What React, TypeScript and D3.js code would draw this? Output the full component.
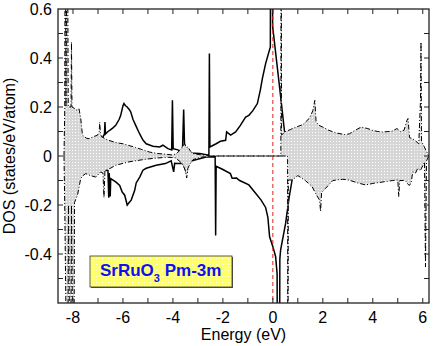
import React from "react";
import * as d3 from "d3";

const width = 436;
const height = 346;
const marginLeft = 58;
const marginRight = 7;
const marginTop = 9;
const marginBottom = 43;

// Ru-d like DOS (solid line), spin up and spin down (magnitudes)
const solidUpE = [-6.85, -6.8, -6.74, -6.72, -6.7, -6.6, -6.53, -6.4, -6.29, -6.15, -6.09, -6.0, -5.96, -5.9, -5.83, -5.75, -5.69, -5.6, -5.49, -5.33, -5.2, -5.07, -4.8, -4.53, -4.4, -4.2, -4.05, -4.02, -3.99, -3.8, -3.62, -3.57, -3.53, -3.3, -2.93, -2.56, -2.54, -2.52, -2.27, -2.1, -1.89, -1.85, -1.75, -1.69, -1.49, -1.3, -1.09, -0.96, -0.8, -0.62, -0.5, -0.42, -0.29, -0.1, -0.09, -0.03, -0.01, 0.27, 0.47, 0.55];
const solidUp = [0, 0.078, 0.09, 0.139, 0.09, 0.1, 0.105, 0.115, 0.125, 0.15, 0.166, 0.205, 0.214, 0.205, 0.2, 0.19, 0.18, 0.15, 0.125, 0.09, 0.065, 0.05, 0.04, 0.037, 0.044, 0.03, 0.025, 0.227, 0.03, 0.025, 0.016, 0.19, 0.02, 0.012, 0.01, 0.003, 0.418, 0.037, 0.05, 0.06, 0.064, 0.098, 0.09, 0.085, 0.098, 0.125, 0.159, 0.166, 0.185, 0.214, 0.27, 0.316, 0.377, 0.445, 1.2, 1.2, 0.53, 0.28, 0.098, 0];
const solidDnE = [-6.72, -6.7, -6.6, -6.57, -6.55, -6.51, -6.49, -6.29, -6.13, -6.03, -5.93, -5.83, -5.75, -5.67, -5.53, -5.47, -5.33, -5.2, -5.07, -4.67, -4.3, -4.07, -3.97, -3.93, -3.8, -3.6, -3.45, -3.4, -3.2, -2.67, -2.31, -2.29, -2.27, -2.0, -1.7, -1.63, -1.45, -1.33, -0.96, -0.69, -0.47, -0.29, -0.2, -0.13, 0.0, 0.11, 0.17, 0.19, 0.26, 0.28, 0.31, 0.51, 0.65, 0.77, 0.82];
const solidDn = [0, 0.058, 0.06, 0.17, 0.07, 0.165, 0.092, 0.106, 0.12, 0.147, 0.16, 0.2, 0.19, 0.18, 0.14, 0.11, 0.086, 0.058, 0.05, 0.038, 0.031, 0.02, 0.065, 0.03, 0.031, 0.03, 0.07, 0.03, 0.018, 0.004, 0.003, 0.324, 0.042, 0.055, 0.072, 0.091, 0.09, 0.1, 0.118, 0.152, 0.18, 0.21, 0.25, 0.33, 0.37, 0.41, 0.48, 1.2, 1.2, 0.42, 0.384, 0.275, 0.17, 0.098, 0];

// shaded DOS (dash-dot outline), spin up and spin down (magnitudes)
const grayUpE = [-8.36, -8.33, -8.31, -8.28, -8.23, -8.19, -8.08, -8.06, -8.04, -7.95, -7.87, -7.76, -7.69, -7.62, -7.45, -7.36, -7.15, -7.02, -6.95, -6.93, -6.9, -6.85, -6.6, -6.3, -6.0, -5.8, -5.5, -5.2, -4.93, -4.6, -4.27, -4.0, -3.85, -3.73, -3.6, -3.53, -3.47, -3.4, -3.3, -3.2, -2.9, -2.67, -2.5, 0.32, 0.33, 0.35, 0.47, 0.7, 0.93, 1.2, 1.47, 1.6, 1.68, 1.73, 1.85, 2.0, 2.24, 2.53, 2.91, 3.07, 3.3, 3.53, 3.8, 3.97, 4.2, 4.4, 4.77, 4.97, 5.1, 5.25, 5.37, 5.41, 5.47, 5.6, 5.73, 5.84, 5.88, 5.91, 5.93, 5.95, 6.05, 6.13, 6.24];
const grayUp = [0, 0.19, 1.2, 0.2, 1.2, 0.2, 0.2, 0.465, 0.2, 0.195, 0.187, 0.193, 0.153, 0.085, 0.072, 0.071, 0.08, 0.085, 0.1, 0.138, 0.09, 0.078, 0.065, 0.055, 0.05, 0.044, 0.035, 0.025, 0.016, 0.01, 0.007, 0.004, 0.01, 0.023, 0.04, 0.05, 0.035, 0.037, 0.02, 0.01, 0.005, 0.003, 0, 0, 1.2, 0.085, 0.098, 0.108, 0.118, 0.128, 0.155, 0.185, 0.227, 0.14, 0.125, 0.118, 0.105, 0.094, 0.087, 0.091, 0.105, 0.118, 0.112, 0.105, 0.1, 0.098, 0.101, 0.112, 0.1, 0.105, 0.146, 0.153, 0.075, 0.07, 0.06, 0.05, 0.15, 0.227, 0.465, 0.06, 0.04, 0.023, 0];
const grayDnE = [-8.36, -8.33, -8.22, -8.18, -8.1, -8.06, -7.97, -7.94, -7.82, -7.69, -7.6, -7.49, -7.3, -7.09, -6.89, -6.8, -6.76, -6.72, -6.69, -6.5, -6.29, -6.0, -5.76, -5.4, -5.0, -4.6, -4.2, -3.9, -3.75, -3.6, -3.5, -3.45, -3.4, -3.3, -3.2, -2.9, -2.6, -2.5, 0.59, 0.6, 0.62, 0.77, 1.0, 1.3, 1.57, 1.75, 1.87, 1.91, 1.95, 2.11, 2.4, 2.8, 3.04, 3.4, 3.71, 4.0, 4.4, 4.8, 5.0, 5.04, 5.08, 5.3, 5.45, 5.53, 5.6, 5.71, 5.8, 5.9, 6.0, 6.07, 6.11, 6.15, 6.24];
const grayDn = [0, 0.2, 1.2, 0.2, 1.2, 0.2, 1.2, 0.19, 0.16, 0.092, 0.08, 0.072, 0.08, 0.086, 0.065, 0.07, 0.17, 0.06, 0.058, 0.05, 0.038, 0.03, 0.024, 0.018, 0.012, 0.008, 0.005, 0.008, 0.02, 0.035, 0.06, 0.09, 0.05, 0.03, 0.015, 0.005, 0.002, 0, 0, 1.2, 0.098, 0.098, 0.08, 0.1, 0.125, 0.16, 0.18, 0.226, 0.15, 0.132, 0.1, 0.095, 0.098, 0.11, 0.118, 0.112, 0.106, 0.1, 0.098, 0.166, 0.1, 0.1, 0.12, 0.113, 0.065, 0.07, 0.05, 0.06, 0.04, 0.024, 0.453, 0.02, 0];

const xTickValues = [-8, -7, -6, -5, -4, -3, -2, -1, 0, 1, 2, 3, 4, 5, 6];
const xTickLabels = [-8, -6, -4, -2, 0, 2, 4, 6];
const yTickValues = [-0.5, -0.4, -0.3, -0.2, -0.1, 0, 0.1, 0.2, 0.3, 0.4, 0.5];
const yTickLabels = [0.6, 0.4, 0.2, 0, -0.2, -0.4];

const fermiLevel = 0;

export default function App() {
  const x = d3
    .scaleLinear()
    .domain([-8.6, 6.25])
    .range([marginLeft, width - marginRight]);
  const y = d3
    .scaleLinear()
    .domain([-0.6, 0.6])
    .range([height - marginBottom, marginTop]);

  const pts = (e: number[], d: number[], sign: number) =>
    e.map((v, i) => [v, sign * d[i]] as [number, number]);

  const line = d3
    .line<[number, number]>()
    .x((d) => x(d[0]))
    .y((d) => y(d[1]));
  const area = d3
    .area<[number, number]>()
    .x((d) => x(d[0]))
    .y0(y(0))
    .y1((d) => y(d[1]));

  const plotW = width - marginLeft - marginRight;
  const plotH = height - marginTop - marginBottom;
  const font = "'Liberation Sans', Arial, Helvetica, sans-serif";

  return (
    <svg
      width={width}
      height={height}
      style={{ position: "absolute", left: 0, top: 0 }}
      fontFamily={font}
    >
      <defs>
        <clipPath id="plot">
          <rect x={marginLeft} y={marginTop} width={plotW} height={plotH} />
        </clipPath>
        <pattern id="dots" width={3} height={3} patternUnits="userSpaceOnUse">
          <rect width={3} height={3} fill="#d6d6d6" />
          <rect width={1} height={1} fill="#ffffff" />
        </pattern>
        <pattern id="yellow" width={3} height={3} patternUnits="userSpaceOnUse">
          <rect width={3} height={3} fill="#ffff6e" />
          <rect width={1} height={1} fill="#ffffe6" />
        </pattern>
      </defs>

      <rect x={0} y={0} width={width} height={height} fill="#fff" />

      <g clipPath="url(#plot)">
        {/* solid curves */}
        <path d={line(pts(solidUpE, solidUp, 1)) || ""} fill="none" stroke="#000" strokeWidth={1.5} />
        <path d={line(pts(solidDnE, solidDn, -1)) || ""} fill="none" stroke="#000" strokeWidth={1.5} />

        {/* shaded curves */}
        <path d={area(pts(grayUpE, grayUp, 1)) || ""} fill="url(#dots)" stroke="none" />
        <path d={area(pts(grayDnE, grayDn, -1)) || ""} fill="url(#dots)" stroke="none" />
        <path d={line(pts(grayUpE, grayUp, 1)) || ""} fill="none" stroke="#000" strokeWidth={1} strokeDasharray="5,2,1,2" />
        <path d={line(pts(grayDnE, grayDn, -1)) || ""} fill="none" stroke="#000" strokeWidth={1} strokeDasharray="5,2,1,2" />

        {/* Fermi level */}
        <line
          x1={x(fermiLevel)}
          x2={x(fermiLevel)}
          y1={marginTop}
          y2={height - marginBottom}
          stroke="#e0201c"
          strokeWidth={1}
          strokeDasharray="4,3"
        />
      </g>

      {/* ticks, inward, on all four sides */}
      <g stroke="#222" strokeWidth={1}>
        {xTickValues.map((t) => (
          <g key={"xt" + t}>
            <line x1={x(t)} x2={x(t)} y1={height - marginBottom} y2={height - marginBottom - 5} />
            <line x1={x(t)} x2={x(t)} y1={marginTop} y2={marginTop + 5} />
          </g>
        ))}
        {yTickValues.map((t) => (
          <g key={"yt" + t}>
            <line x1={marginLeft} x2={marginLeft + 5} y1={y(t)} y2={y(t)} />
            <line x1={width - marginRight} x2={width - marginRight - 5} y1={y(t)} y2={y(t)} />
          </g>
        ))}
      </g>

      <rect
        x={marginLeft}
        y={marginTop}
        width={plotW}
        height={plotH}
        fill="none"
        stroke="#222"
        strokeWidth={1.3}
      />

      <g fontSize={16} fill="#000">
        {xTickLabels.map((t) => (
          <text key={"xl" + t} x={x(t)} y={323} textAnchor="middle">
            {t}
          </text>
        ))}
        {yTickLabels.map((t) => (
          <text key={"yl" + t} x={52} y={y(t) + 6} textAnchor="end">
            {t}
          </text>
        ))}
        <text x={(marginLeft + width - marginRight) / 2} y={340} textAnchor="middle">
          Energy (eV)
        </text>
        <text transform={`translate(15,${y(0)}) rotate(-90)`} textAnchor="middle">
          DOS (states/eV/atom)
        </text>
      </g>

      {/* legend box */}
      <rect x={91} y={257} width={142} height={31} fill="#555" />
      <rect x={90} y={256} width={142} height={31} fill="url(#yellow)" stroke="#333" strokeWidth={0.8} />
      <text x={100} y={276} fontSize={17} fontWeight="bold" fill="#1010ee">
        SrRuO
        <tspan fontSize={11} dy={6}>3</tspan>
        <tspan dy={-6}> Pm-3m</tspan>
      </text>
    </svg>
  );
}
